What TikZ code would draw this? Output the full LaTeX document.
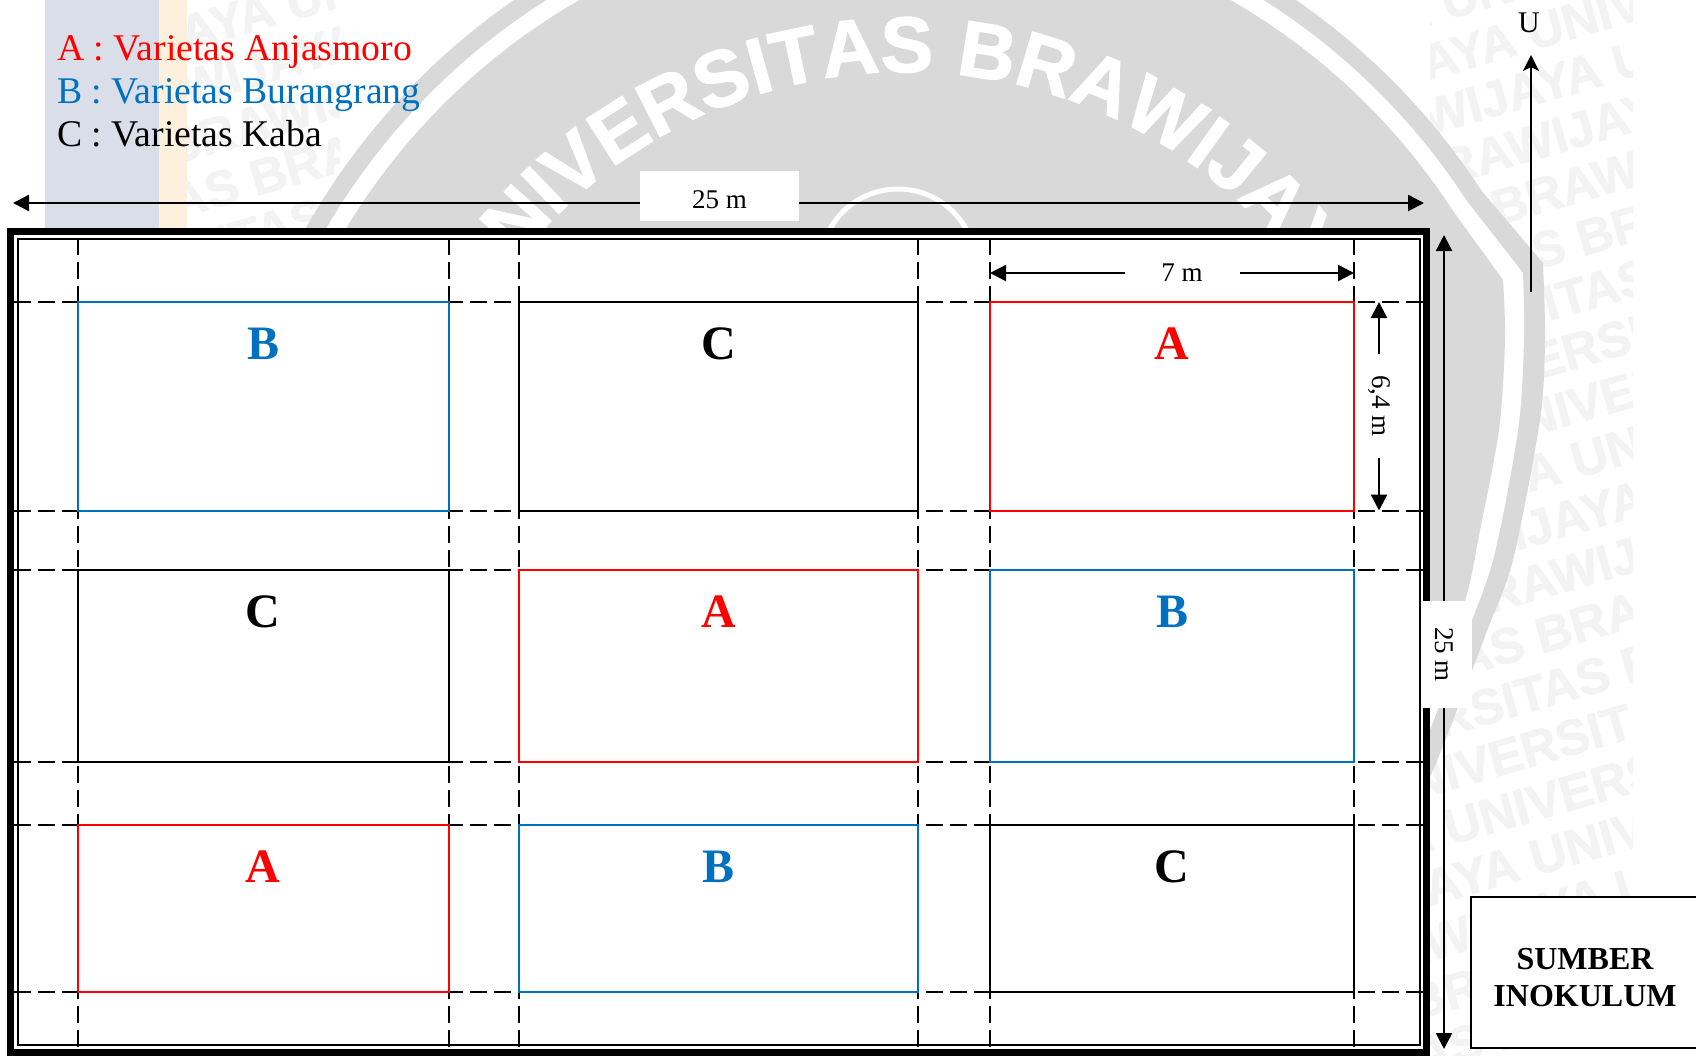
\documentclass[tikz,border=0pt]{standalone}
\usepackage{fontspec}
\setmainfont{Liberation Serif}
\newfontfamily\wmfont[BoldFeatures={FakeBold=1.5}]{Liberation Sans}
\usetikzlibrary{arrows.meta,decorations.text}
\definecolor{vara}{RGB}{255,0,0}
\definecolor{varb}{RGB}{0,112,192}
\definecolor{varc}{RGB}{0,0,0}
\definecolor{logoabu}{RGB}{217,217,217}
\definecolor{tandair}{RGB}{243,243,243}
\definecolor{stripbiru}{RGB}{217,222,232}
\definecolor{stripkrem}{RGB}{253,241,221}
\newcommand{\fsz}[1]{\fontsize{#1}{#1}\selectfont}
\tikzset{
  ukurandua/.style={{Triangle[length=16pt,width=16pt]}-{Triangle[length=16pt,width=16pt]},line width=2.4pt},
  bantu/.style={line width=2pt,dash pattern=on 17pt off 7pt},
  plotbox/.style={draw,line width=2pt,fill=white,inner sep=0pt,outer sep=0pt},
  plotlab/.style={font=\fsz{48}\bfseries,inner sep=0pt},
  legenda/.style={font=\fsz{37.7},anchor=base west,inner sep=0pt},
  labelm/.style={font=\fsz{27},fill=white,inner sep=0pt,text depth=0pt}
}
\begin{document}
\begin{tikzpicture}[x=1pt,y=-1pt]
  \useasboundingbox (0,0) rectangle (1696,1055);
  \fill[stripbiru] (45,0) rectangle (159,228);
  \fill[stripkrem] (159,0) rectangle (187,228);
  \foreach \xa/\xb/\yb/\ra/\rb in {187/340/228/-12/-4,1430/1633/1055/-5/15}{
    \begin{scope}
      \clip (\xa,0) rectangle (\xb,\yb);
      \foreach \r in {\ra,...,\rb}{
        \pgfmathsetmacro\xo{1163.6+\r*85.7}
        \pgfmathsetmacro\yo{321.5+\r*30.5}
        \pgfmathsetmacro\nn{ceil((\xo-\xa)/641.2)}
        \node[font=\wmfont\bfseries\fsz{50},text=tandair,rotate=16,anchor=base west,inner sep=0pt] (tanda\xa r\r)
          at ({\xo-\nn*641.2},{\yo+\nn*183.9})
          {UNIVERSITAS BRAWIJAYA UNIVERSITAS BRAWIJAYA};
      }
    \end{scope}
  }
  \fill[logoabu] plot[domain=155:33,samples=80] ({905+688*cos(\x)},{566-688*sin(\x)})
    -- plot[smooth] coordinates {(1543,263)(1545,340)(1540,420)(1513,560)(1487,631)(1443,746)(1420,800)}
    -- (300,800) -- cycle;
  \fill[white] plot[domain=155:33,samples=80] ({905+670*cos(\x)},{566-670*sin(\x)})
    -- plot[smooth] coordinates {(1523,273)(1524,340)(1518,430)(1493,560)(1460,650)(1430,730)(1415,770)}
    -- (300,770) -- cycle;
  \fill[logoabu] plot[domain=155:33,samples=80] ({905+653*cos(\x)},{566-653*sin(\x)})
    -- plot[smooth] coordinates {(1503,280)(1505,340)(1499,430)(1480,530)(1465,601)(1430,690)(1420,715)}
    -- (300,715) -- cycle;
  \path[decorate,decoration={text along path,text align=center,
      text={|\wmfont\bfseries\fsz{79}\color{white}|UNIVERSITAS BRAWIJAYA}}]
    plot[domain=163.5:13.5,samples=80] ({905+494*cos(\x)},{566-494*sin(\x)});
  \draw[white,line width=5pt] (898,267) circle[radius=78];

  \node[legenda,text=vara] (lega) at (57,60) {A : Varietas Anjasmoro};
  \node[legenda,text=varb] (legb) at (57,103) {B : Varietas Burangrang};
  \node[legenda,text=varc] (legc) at (57,146) {C : Varietas Kaba};

  \draw[line width=7pt,fill=white] (10.5,231.5) rectangle (1426.5,1052);
  \draw[line width=2pt] (18,238.5) rectangle (1419.5,1044.5);
  \foreach \x in {77.5,449,519,918,990,1354}{
    \draw[bantu] (\x,238) -- (\x,1049);
  }
  \foreach \y in {302,510.5,570,762,825,992}{
    \draw[bantu] (14,\y) -- (1423,\y);
  }
  \foreach \nm/\x/\y/\w/\h/\col/\lab in {
      pa/263.25/406.25/371.5/208.5/varb/B, pb/718.5/406.25/399/208.5/varc/C, pc/1172/406.25/364/208.5/vara/A,
      pd/263.25/666/371.5/192/varc/C, pe/718.5/666/399/192/vara/A, pf/1172/666/364/192/varb/B,
      pg/263.25/908.5/371.5/167/vara/A, ph/718.5/908.5/399/167/varb/B, pi/1172/908.5/364/167/varc/C}{
    \node[plotbox,draw=\col,minimum width=\w pt,minimum height=\h pt] (\nm) at (\x,\y) {};
    \node[plotlab,text=\col,anchor=base] (\nm lab) at ([yshift=-57pt]\nm.north) {\lab};
  }

  \coordinate (atasL) at (13,203);
  \coordinate (atasR) at (1424,203);
  \draw[ukurandua] (atasL) -- (atasR);
  \node[labelm,minimum width=159pt,minimum height=50pt,text height=24pt] (lebar) at (719.5,196) {25 m};

  \coordinate (sisiT) at (1444,235);
  \coordinate (sisiB) at (1444,1049);
  \draw[ukurandua] (sisiT) -- (sisiB);
  \node[labelm,rotate=-90,minimum width=107pt,minimum height=49pt,text height=24pt] (panjang) at (1447.5,654.5) {25 m};

  \coordinate (tujuhL) at (pc.north west |- 0,273);
  \coordinate (tujuhR) at (pc.north east |- 0,273);
  \draw[ukurandua] (tujuhL) -- (tujuhR);
  \node[labelm,minimum width=115pt,minimum height=30pt] (tujuh) at (1182,273) {7 m};

  \coordinate (enamT) at (1379,302);
  \coordinate (enamB) at (1379,510.5);
  \draw[ukurandua] (enamT) -- (enamB);
  \node[labelm,rotate=-90,minimum width=104pt,minimum height=30pt] (enam) at (1381,406) {6,4 m};

  \coordinate (utaraB) at (1531,292);
  \node[font=\fsz{30},inner sep=0pt,anchor=base] (utara) at (1529,32) {U};
  \coordinate (utaraT) at (1531,55);
  \draw[-{Stealth[length=16pt,width=16pt,inset=4pt]},line width=2.4pt] (utaraB) -- (utaraT);

  \node[draw,line width=2pt,fill=white,minimum width=228pt,minimum height=151pt,
    inner sep=0pt,outer sep=0pt] (sumber) at (1585,972.5) {};
  \node[align=center,font=\fsz{32}\bfseries,inner sep=0pt] (sumberteks) at ([yshift=-5pt]sumber.center)
    {SUMBER\\[5pt]INOKULUM};
\end{tikzpicture}
\end{document}
